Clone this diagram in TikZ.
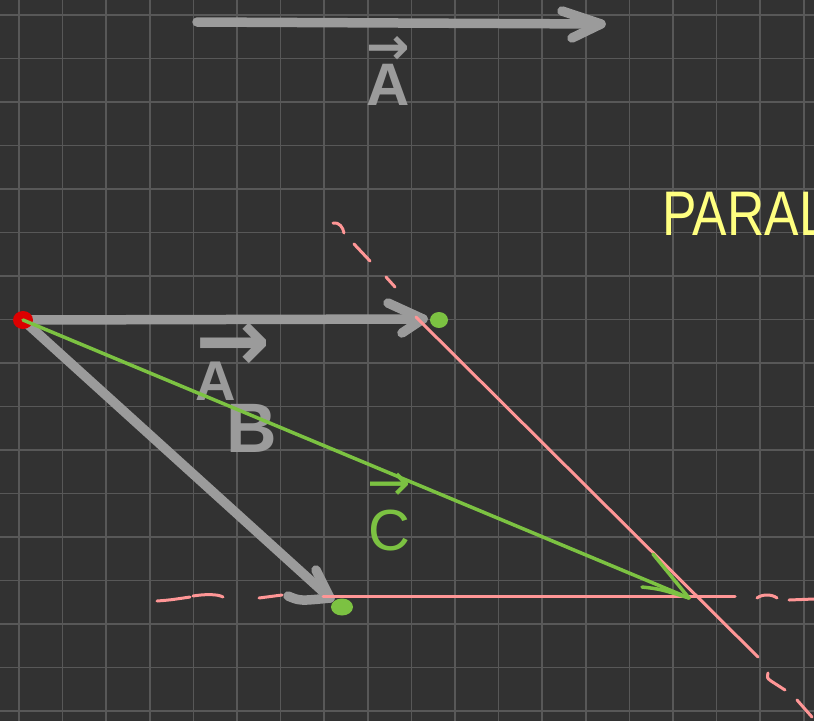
\documentclass[tikz,border=0pt]{standalone}
\usepackage{fontspec}
\usepackage{graphicx}
\newfontfamily\handfont{Liberation Sans}
\newfontfamily\arrfont{DejaVu Sans}
\definecolor{bgc}{RGB}{50,50,50}
\definecolor{gridc}{RGB}{88,88,88}
\definecolor{vgray}{RGB}{155,155,155}
\definecolor{vgreen}{RGB}{124,194,66}
\definecolor{vpink}{RGB}{255,150,150}
\definecolor{vred}{RGB}{220,0,0}
\definecolor{vyellow}{RGB}{255,255,128}
\tikzset{
  gridline/.style={draw=gridc, line width=1.6pt},
  vecgray/.style={draw=vgray, line width=9.5pt, line cap=round, line join=round},
  vecgreen/.style={draw=vgreen, line width=3.5pt, line cap=round, line join=round},
  pinkline/.style={draw=vpink, line width=3pt, line cap=round, line join=round},
  graytext/.style={text=vgray, inner sep=0pt},
  greentext/.style={text=vgreen, inner sep=0pt},
}
\begin{document}
\begin{tikzpicture}[x=1pt, y=-1pt]
\useasboundingbox (0,0) rectangle (814,721);
\fill[bgc] (0,0) rectangle (814,721);
% grid
\foreach \k in {0,...,18} \draw[gridline] ({18.9+43.6*\k},0) -- ({18.9+43.6*\k},721);
\foreach \k in {0,...,16} \draw[gridline] (0,{15+43.5*\k}) -- (814,{15+43.5*\k});

% named points
\coordinate (A0) at (197,22);
\coordinate (A1) at (601,24);
\coordinate (O) at (23,320);
\coordinate (H1) at (423,319);
\coordinate (B1) at (330,598);
\coordinate (C1) at (689,598);
\coordinate (P1) at (416,317);
\coordinate (P2) at (758,657);
\coordinate (Q1) at (323,596);
\coordinate (Q2) at (735,596);

% gray vectors
\draw[vecgray] (A0) -- (A1);
\draw[vecgray] (562,11) -- (A1) -- (572,38);
\draw[vecgray] (O) -- (H1);
\draw[vecgray] (388,303) -- (H1) -- (402,333);
\draw[vecgray] (O) -- (B1);
\draw[vecgray] (316,570) -- (B1);
\draw[vecgray] (288,596) .. controls (300,601) .. (B1);

% gray labels
\node[graytext, anchor=base, font=\handfont\bfseries\fontsize{60}{60}\selectfont] (labA) at (388,105)
  {\shortstack{{\arrfont\bfseries\fontsize{52}{52}\selectfont →}\\[-4pt]A}};
\node[graytext, anchor=base west, font=\handfont\bfseries\fontsize{56}{56}\selectfont] (labB) at (195,452)
  {\shortstack[l]{{\arrfont\bfseries\fontsize{90}{90}\selectfont →}\\[-12pt]A\\\hspace*{31pt}{\fontsize{70}{70}\selectfont B}}};

% red origin dot
\fill[vred] (O) ellipse [x radius=10, y radius=9];

% pink construction lines
\draw[pinkline] (P1) -- (P2);
\draw[pinkline] (Q1) -- (Q2);
\draw[pinkline] (333,223) .. controls (339,222) and (343,227) .. (344,233);
\draw[pinkline] (354,244) -- (370,261);
\draw[pinkline] (386,277) -- (395,287);
\draw[pinkline] (768,673) .. controls (767,678) .. (771,681) -- (785,690);
\draw[pinkline] (797,700) -- (812,717);
\draw[pinkline] (757,598) .. controls (762,594) and (772,594) .. (777,598);
\draw[pinkline] (789,600) -- (814,599);
\draw[pinkline] (157,601) .. controls (170,600) .. (190,597);
\draw[pinkline] (193,596) .. controls (205,594) and (218,594) .. (223,597);
\draw[pinkline] (259,598) -- (282,595);

% green resultant
\draw[vecgreen] (O) -- (C1);
\draw[vecgreen] (653,554) -- (C1);
\draw[vecgreen] (642,587) .. controls (660,589) .. (C1);
\node[greentext, anchor=base, font=\handfont\fontsize{58}{58}\selectfont] (labC) at (389,550)
  {\shortstack{{\arrfont\fontsize{52}{52}\selectfont →}\\[6pt]C}};

% green end dots
\fill[vgreen] (439,320) ellipse [x radius=9, y radius=8];
\fill[vgreen] (342,607) ellipse [x radius=11, y radius=8.5];

% yellow title
\node[text=vyellow, inner sep=0pt, anchor=base west, font=\handfont\fontsize{63}{63}\selectfont] (title) at (662,235) {\scalebox{0.82}[1]{PARAL}};
\end{tikzpicture}
\end{document}
